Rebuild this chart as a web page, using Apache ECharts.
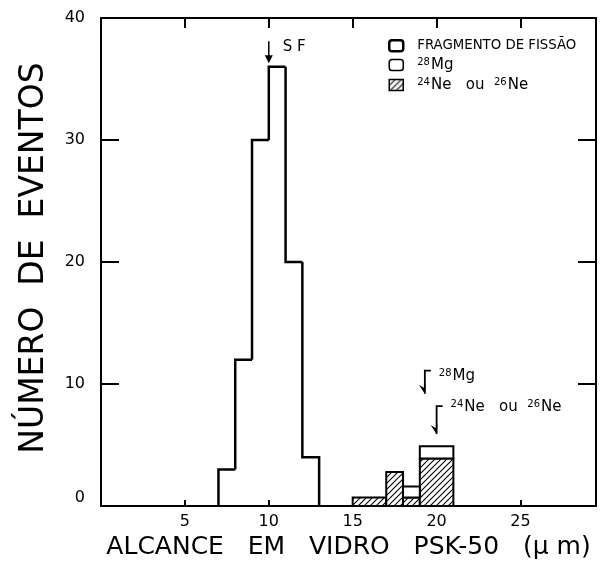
<!DOCTYPE html>
<html>
<head>
<meta charset="utf-8">
<script src="https://cdn.jsdelivr.net/npm/echarts@6/dist/echarts.min.js"></script>
<style>
  html, body { margin: 0; padding: 0; background: #fff; }
  #chart { width: 606px; height: 565px; }
</style>
</head>
<body>
<div id="chart"></div>
<script>
// Fission-fragment range histogram (bin edges in µm, counts per bin)
const fissionEdges = [7, 8, 9, 10, 11, 12, 13];
const fissionCounts = [3, 12, 30, 36, 20, 4];

// Heavy-ion events: shared bin edges, Ne counts at the base, Mg stacked on top
const ionEdges = [15, 17, 18, 19, 21];
const neCounts = [0.7, 2.8, 0.7, 3.9];
const mgCounts = [0, 0, 0.9, 1.0];

// Axis ticks
const xTicks = [5, 10, 15, 20, 25];
const yTicks = [0, 10, 20, 30, 40];

// Annotation arrows: x position, top and tip (in data units)
const arrowNames = ['S F', '28Mg', '24Ne ou 26Ne'];
const arrowX = [10, 19.3, 20.0];
const arrowTop = [38.1, 11.1, 8.2];
const arrowTip = [36.3, 9.2, 5.9];

const FONT = 'DejaVu Sans';

// Diagonal hatch pattern for the Ne bars
function makeHatch() {
  const c = document.createElement('canvas');
  const s = 6;
  c.width = s; c.height = s;
  const g = c.getContext('2d');
  g.fillStyle = '#fff';
  g.fillRect(0, 0, s, s);
  g.strokeStyle = '#000';
  g.lineWidth = 1.1;
  g.beginPath();
  g.moveTo(0, s); g.lineTo(s, 0);
  g.moveTo(-1, 1); g.lineTo(1, -1);
  g.moveTo(s - 1, s + 1); g.lineTo(s + 1, s - 1);
  g.stroke();
  return c;
}
const hatch = { image: makeHatch(), repeat: 'repeat' };

const fissionData = fissionCounts.map((v, i) => [fissionEdges[i], fissionEdges[i + 1], v, i > 0 ? fissionCounts[i - 1] : 0, i === fissionCounts.length - 1 ? 1 : 0]);
const neData = neCounts.map((v, i) => [ionEdges[i], ionEdges[i + 1], 0, v]);
const mgData = mgCounts.map((v, i) => [ionEdges[i], ionEdges[i + 1], neCounts[i], neCounts[i] + v]).filter(d => d[3] > d[2]);
const arrowData = arrowX.map((x, i) => [x, arrowTop[i], arrowTip[i], i]);

const rich = {
  n: { fontFamily: FONT, fontSize: 15, color: '#000', verticalAlign: 'bottom', lineHeight: 15 },
  s: { fontFamily: FONT, fontSize: 10, color: '#000', verticalAlign: 'top', lineHeight: 15, padding: [0, 1, 5, 0] },
  f: { fontFamily: FONT, fontSize: 13.3, color: '#000', lineHeight: 13 },
  zero: { fontFamily: FONT, fontSize: 16, color: '#000', padding: [0, 0, 16, 0] }
};
function richName(name) {
  if (name === '28Mg') return '{s|28}{n|Mg}';
  if (name === '24Ne ou 26Ne') return '{s|24}{n|Ne   ou  }{s|26}{n|Ne}';
  if (name === 'S F') return '{n|S F}';
  return '{f|' + name + '}';
}

const frameLine = { show: true, onZero: false, lineStyle: { color: '#000', width: 2 } };

const option = {
  backgroundColor: '#fff',
  animation: false,
  grid: { left: 101, right: 10, top: 18, bottom: 52 },
  legend: {
    orient: 'vertical',
    left: 383, top: 34,
    itemWidth: 14, itemHeight: 11, itemGap: 5,
    selectedMode: false,
    formatter: richName,
    textStyle: { rich: rich, padding: [0, 0, 0, 9] },
    data: [
      { name: 'FRAGMENTO DE FISSÃO', icon: 'roundRect', itemStyle: { color: '#fff', borderColor: '#000', borderWidth: 2.5 } },
      { name: '28Mg', icon: 'roundRect', itemStyle: { color: '#fff', borderColor: '#000', borderWidth: 1.5 } },
      { name: '24Ne ou 26Ne', icon: 'rect', itemStyle: { color: hatch, borderColor: '#000', borderWidth: 1.5 } }
    ]
  },
  xAxis: [
    {
      type: 'value', min: 0, max: 29.5, interval: 5, position: 'bottom',
      name: 'ALCANCE   EM   VIDRO   PSK-50   (μ m)', nameLocation: 'middle', nameGap: 28,
      nameTextStyle: { fontFamily: FONT, fontSize: 25, color: '#000' },
      axisLine: frameLine,
      axisTick: { show: true, inside: true, length: 6, lineStyle: { color: '#000', width: 2 } },
      axisLabel: {
        margin: 8, fontFamily: FONT, fontSize: 16, color: '#000',
        formatter: v => (xTicks.indexOf(v) >= 0 ? String(v) : '')
      },
      splitLine: { show: false }
    },
    {
      type: 'value', min: 0, max: 29.5, interval: 5, position: 'top',
      axisLine: frameLine,
      axisTick: { show: true, inside: true, length: 10, lineStyle: { color: '#000', width: 2 } },
      axisLabel: { show: false },
      splitLine: { show: false }
    }
  ],
  yAxis: [
    {
      type: 'value', min: 0, max: 40, interval: 10, position: 'left',
      name: 'NÚMERO  DE  EVENTOS', nameLocation: 'middle', nameGap: 50, nameRotate: 90,
      nameTextStyle: { fontFamily: FONT, fontSize: 33, color: '#000', padding: [0, 0, 0, 8] },
      axisLine: frameLine,
      axisTick: { show: true, inside: true, length: 18, lineStyle: { color: '#000', width: 2 } },
      axisLabel: {
        margin: 16, fontFamily: FONT, fontSize: 16, color: '#000',
        rich: rich,
        formatter: v => (v === 0 ? '{zero|0}' : (yTicks.indexOf(v) >= 0 ? String(v) : ''))
      },
      splitLine: { show: false }
    },
    {
      type: 'value', min: 0, max: 40, interval: 10, position: 'right',
      axisLine: frameLine,
      axisTick: { show: true, inside: true, length: 18, lineStyle: { color: '#000', width: 2 } },
      axisLabel: { show: false },
      splitLine: { show: false }
    }
  ],
  series: [
    {
      // step outline of the fission histogram
      name: 'FRAGMENTO DE FISSÃO',
      type: 'custom',
      data: fissionData,
      renderItem: function (params, api) {
        const x0 = api.value(0), x1 = api.value(1), h = api.value(2), prev = api.value(3), last = api.value(4);
        const pts = [api.coord([x0, prev]), api.coord([x0, h]), api.coord([x1, h])];
        if (last) pts.push(api.coord([x1, 0]));
        return { type: 'polyline', shape: { points: pts }, style: { stroke: '#000', lineWidth: 2.5, fill: null } };
      },
      z: 3
    },
    {
      name: '24Ne ou 26Ne',
      type: 'custom',
      data: neData,
      itemStyle: { color: hatch },
      renderItem: function (params, api) {
        const p0 = api.coord([api.value(0), api.value(3)]);
        const p1 = api.coord([api.value(1), api.value(2)]);
        return { type: 'rect', shape: { x: p0[0], y: p0[1], width: p1[0] - p0[0], height: p1[1] - p0[1] },
          style: { fill: hatch, stroke: '#000', lineWidth: 2 } };
      },
      z: 3
    },
    {
      name: '28Mg',
      type: 'custom',
      data: mgData,
      itemStyle: { color: '#fff' },
      renderItem: function (params, api) {
        const p0 = api.coord([api.value(0), api.value(3)]);
        const p1 = api.coord([api.value(1), api.value(2)]);
        return { type: 'rect', shape: { x: p0[0], y: p0[1], width: p1[0] - p0[0], height: p1[1] - p0[1] },
          style: { fill: '#fff', stroke: '#000', lineWidth: 2 } };
      },
      z: 3
    },
    {
      name: 'arrows',
      type: 'custom',
      data: arrowData,
      renderItem: function (params, api) {
        const i = api.value(3);
        const top = api.coord([api.value(0), api.value(1)]);
        const tip = api.coord([api.value(0), api.value(2)]);
        const x = top[0];
        const children = [];
        if (i === 0) {
          children.push({ type: 'line', shape: { x1: x, y1: top[1], x2: x, y2: tip[1] - 6 }, style: { stroke: '#000', lineWidth: 1.5 } });
          children.push({ type: 'polygon', shape: { points: [[x - 4, tip[1] - 8], [x + 4, tip[1] - 8], [x, tip[1]]] }, style: { fill: '#000' } });
          children.push({ type: 'text', x: x + 14, y: top[1] + 6, style: { text: richName(arrowNames[i]), rich: rich, textVerticalAlign: 'middle' } });
        } else {
          children.push({ type: 'polyline', shape: { points: [[x + 6, top[1]], [x, top[1]], [x, tip[1]]] }, style: { stroke: '#000', lineWidth: 1.8, fill: null } });
          children.push({ type: 'polygon', shape: { points: [[x - 6, tip[1] - 9], [x - 1, tip[1] - 6], [x + 1, tip[1] - 10], [x, tip[1]]] }, style: { fill: '#000' } });
          children.push({ type: 'text', x: x + 14, y: top[1] + (i === 1 ? 5 : 1), style: { text: richName(arrowNames[i]), rich: rich, textVerticalAlign: 'middle' } });
        }
        return { type: 'group', children: children };
      },
      z: 4
    }
  ]
};

const chart = echarts.init(document.getElementById('chart'), null, { renderer: 'canvas' });
chart.setOption(option);
</script>
</body>
</html>
